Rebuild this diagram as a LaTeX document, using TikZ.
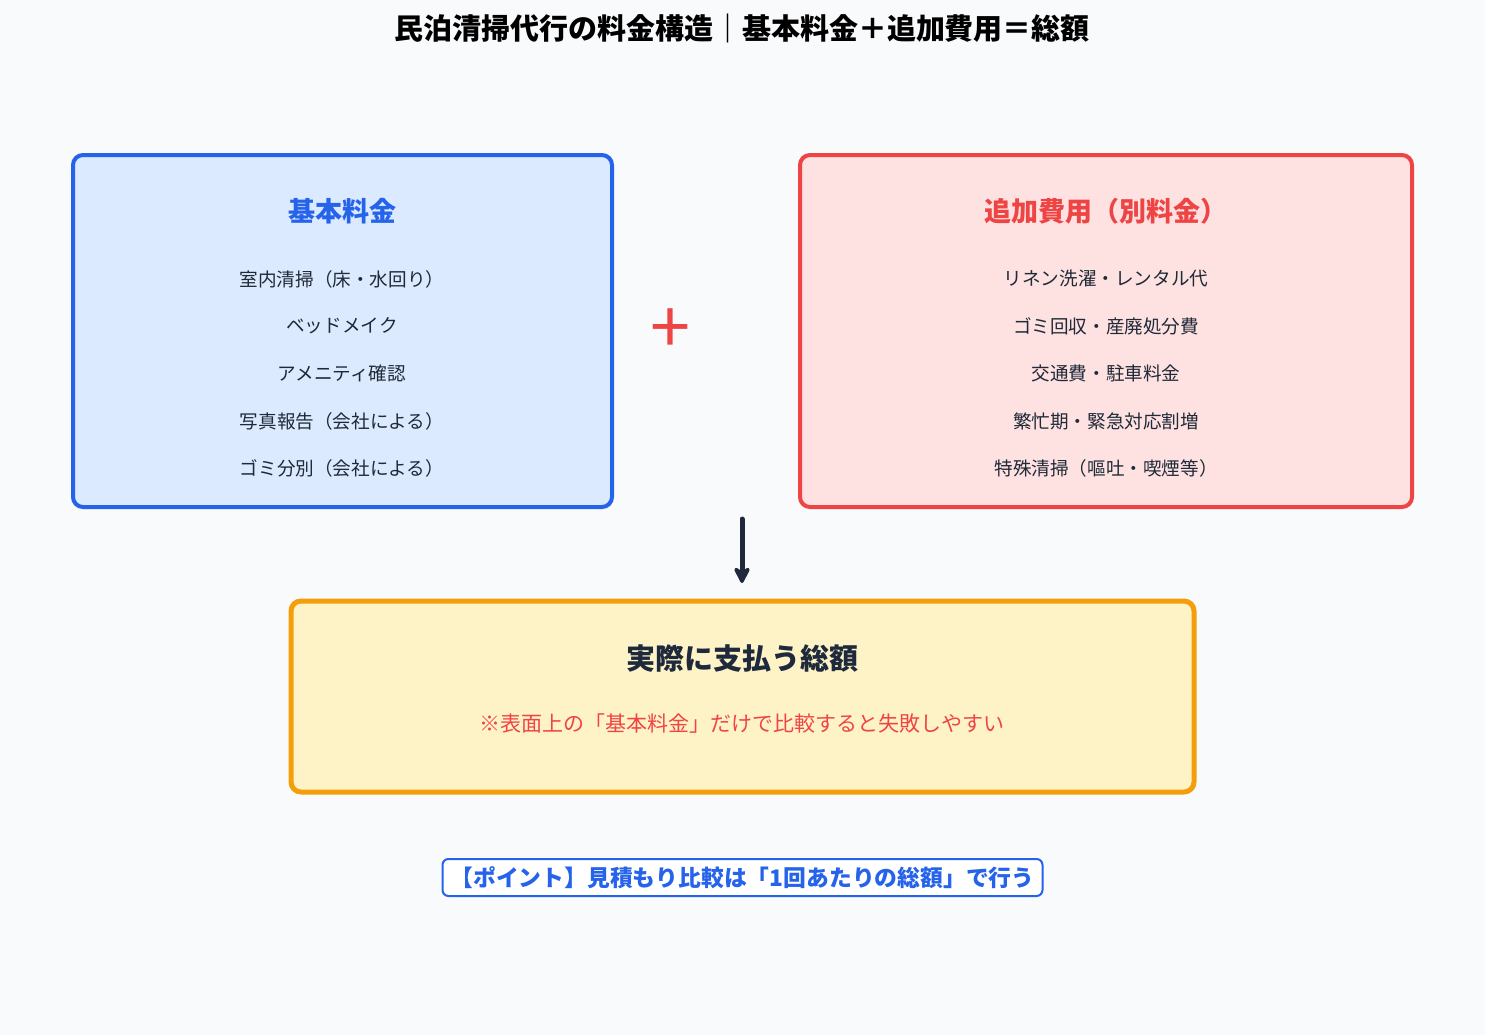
\documentclass[tikz,border=0pt]{standalone}
\usepackage{fontspec}
\setmainfont{Noto Sans CJK JP}
\usetikzlibrary{arrows.meta}
\definecolor{bg}{HTML}{F8FAFC}
\definecolor{blueln}{HTML}{2563EB}
\definecolor{bluefill}{HTML}{DBEAFE}
\definecolor{redln}{HTML}{EF4444}
\definecolor{redfill}{HTML}{FEE2E2}
\definecolor{orln}{HTML}{F59E0B}
\definecolor{orfill}{HTML}{FEF3C7}
\definecolor{ink}{HTML}{1E293B}
\definecolor{itemc}{HTML}{1F2937}
\tikzset{
  panel/.style={rounded corners=5pt, line width=2pt},
  itemtxt/.style={font=\fontsize{9.3}{11}\selectfont, text=itemc, inner sep=0pt},
  headtxt/.style={font=\fontsize{13.5}{16}\selectfont\bfseries, inner sep=0pt},
}
\begin{document}
\begin{tikzpicture}[x=0.5pt,y=-0.5pt]
\fill[bg] (0,0) rectangle (1485,1035);
\useasboundingbox (0,0) rectangle (1485,1035);

\node[inner sep=0pt, text=black, font=\fontsize{14.5}{17}\selectfont\bfseries] (title) at (742,28) {民泊清掃代行の料金構造｜基本料金＋追加費用＝総額};

% left box
\draw[panel, draw=blueln, fill=bluefill] (73,155) rectangle (612,507);
\node[headtxt, text=blueln] (lh) at (342,211) {基本料金};
\node[itemtxt] (l1) at (342,279) {室内清掃（床・水回り）};
\node[itemtxt] (l2) at (342,326) {ベッドメイク};
\node[itemtxt] (l3) at (342,373) {アメニティ確認};
\node[itemtxt] (l4) at (342,421) {写真報告（会社による）};
\node[itemtxt] (l5) at (342,468) {ゴミ分別（会社による）};

% plus
\node[inner sep=0pt, text=redln, font=\fontsize{36}{36}\selectfont] (plus) at (670,331) {+};

% right box
\draw[panel, draw=redln, fill=redfill] (800,155) rectangle (1412,507);
\node[headtxt, text=redln] (rh) at (1106,211) {追加費用（別料金）};
\node[itemtxt] (r1) at (1106,278) {リネン洗濯・レンタル代};
\node[itemtxt] (r2) at (1106,326) {ゴミ回収・産廃処分費};
\node[itemtxt] (r3) at (1106,373) {交通費・駐車料金};
\node[itemtxt] (r4) at (1106,421) {繁忙期・緊急対応割増};
\node[itemtxt] (r5) at (1106,468) {特殊清掃（嘔吐・喫煙等）};

% arrow
\coordinate (as) at (742,519);
\coordinate (ae) at (742,583);
\draw[ink, line width=2.5pt, line cap=round, -{Stealth[length=10pt,width=10pt,inset=3pt,round]}] (as) -- (ae);

% bottom box
\draw[rounded corners=5pt, line width=2.5pt, draw=orln, fill=orfill] (291,601) rectangle (1194,792);
\node[inner sep=0pt, text=ink, font=\fontsize{14.5}{17}\selectfont\bfseries] (bh) at (742,658) {実際に支払う総額};
\node[inner sep=0pt, text=redln, font=\fontsize{10.5}{12}\selectfont] (bn) at (742,724) {※表面上の「基本料金」だけで比較すると失敗しやすい};

% point
\node[draw=blueln, line width=1pt, fill=white, rounded corners=3pt, text=blueln,
  font=\fontsize{11.4}{13}\selectfont\bfseries, minimum width=300pt, minimum height=18.5pt, inner sep=0pt] (pt) at (742.5,877.5) {【ポイント】見積もり比較は「1回あたりの総額」で行う};
\end{tikzpicture}
\end{document}
